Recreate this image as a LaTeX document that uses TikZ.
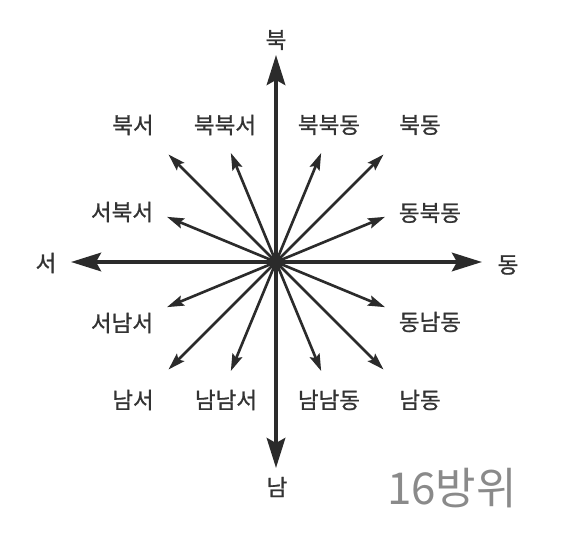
\documentclass[tikz,border=0pt]{standalone}
\usepackage{fontspec}
\setmainfont{Noto Sans CJK KR}
\newfontfamily\lblfont{Noto Sans CJK KR}[FakeBold=0.9]
\usetikzlibrary{arrows.meta}
\definecolor{ink}{HTML}{2B2B2B}
\definecolor{labelgray}{HTML}{333333}
\definecolor{titlegray}{HTML}{8A8A8A}

\begin{document}
\begin{tikzpicture}[
    axis/.style = {draw=ink, line width=2.2pt, -{Stealth[length=0.6cm, width=0.37cm, inset=0.1cm]}},
    ray/.style  = {draw=ink, line width=1.5pt, -{Stealth[length=0.34cm, width=0.21cm, inset=0.06cm]}},
    lbl/.style  = {text=labelgray, font=\lblfont\fontsize{12.8}{15}\selectfont, inner sep=0pt}
  ]

  \useasboundingbox (-5.52,-5.88) rectangle (5.98,5.24);

  \coordinate (c) at (0,0);

  % main directions
  \coordinate (n) at (90:4.14);
  \coordinate (s) at (270:4.12);
  \coordinate (w) at (180:4.10);
  \coordinate (e) at (0:4.12);

  \draw[axis] (c) -- (n);
  \draw[axis] (c) -- (s);
  \draw[axis] (c) -- (w);
  \draw[axis] (c) -- (e);

  % in-between directions
  \coordinate (ne)  at (45:3.04);
  \coordinate (nw)  at (135:3.04);
  \coordinate (sw)  at (225:3.04);
  \coordinate (se)  at (315:3.04);

  \coordinate (nne) at (67.5:2.36);
  \coordinate (nnw) at (112.5:2.36);
  \coordinate (ssw) at (247.5:2.36);
  \coordinate (sse) at (292.5:2.36);

  \coordinate (ene) at (22.5:2.36);
  \coordinate (wnw) at (157.5:2.36);
  \coordinate (wsw) at (202.5:2.36);
  \coordinate (ese) at (337.5:2.36);

  \draw[ray] (c) -- (ne);
  \draw[ray] (c) -- (nw);
  \draw[ray] (c) -- (sw);
  \draw[ray] (c) -- (se);
  \draw[ray] (c) -- (nne);
  \draw[ray] (c) -- (nnw);
  \draw[ray] (c) -- (ssw);
  \draw[ray] (c) -- (sse);
  \draw[ray] (c) -- (ene);
  \draw[ray] (c) -- (wnw);
  \draw[ray] (c) -- (wsw);
  \draw[ray] (c) -- (ese);

  \fill[ink] (c) circle (0.14cm);

  % labels
  \node[lbl] (nlbl) at (0, 4.44) {북};
  \node[lbl] (slbl) at (0.02, -4.5) {남};
  \node[lbl] (wlbl) at (-4.6, -0.02) {서};
  \node[lbl] (elbl) at (4.64, -0.06) {동};

  \node[lbl] (nwlbl)  at (-2.86, 2.74) {북서};
  \node[lbl] (nnwlbl) at (-1.02, 2.74) {북북서};
  \node[lbl] (nnelbl) at (1.06, 2.74) {북북동};
  \node[lbl] (nelbl)  at (2.88, 2.74) {북동};

  \node[lbl] (wnwlbl) at (-3.08, 1.0) {서북서};
  \node[lbl] (enelbl) at (3.08, 0.98) {동북동};
  \node[lbl] (wswlbl) at (-3.08, -1.22) {서남서};
  \node[lbl] (eselbl) at (3.08, -1.2) {동남동};

  \node[lbl] (swlbl)  at (-2.86, -2.76) {남서};
  \node[lbl] (sswlbl) at (-1.0, -2.76) {남남서};
  \node[lbl] (sselbl) at (1.06, -2.76) {남남동};
  \node[lbl] (selbl)  at (2.88, -2.76) {남동};

  \node[text=titlegray, font=\fontsize{25}{29}\selectfont, inner sep=0pt] (title) at (3.52, -4.52) {16방위};

\end{tikzpicture}
\end{document}
